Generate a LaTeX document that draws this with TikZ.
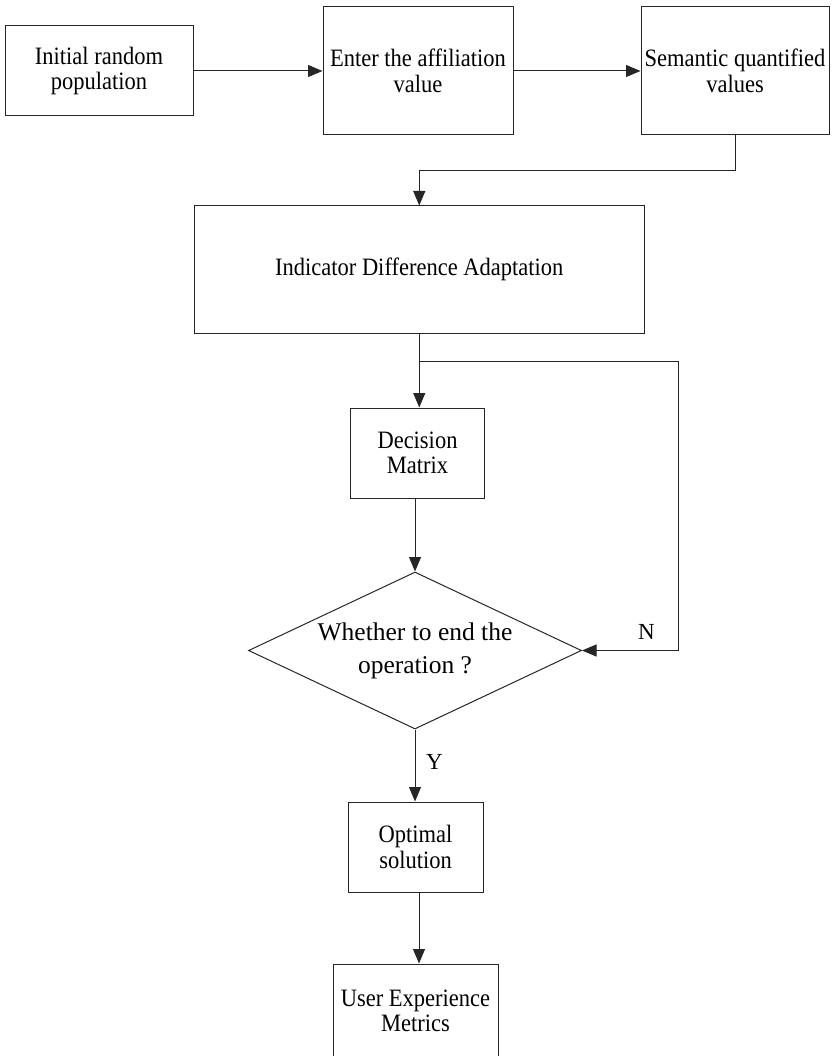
\documentclass[tikz,border=0pt]{standalone}
\usepackage{fontspec}
\setmainfont{Liberation Serif}
\newfontfamily\narrowserif[FakeStretch=0.9]{Liberation Serif}
\usetikzlibrary{arrows.meta,shapes.geometric}

\tikzset{
  flow/.style={draw=black!85, line width=1pt},
  box/.style={flow, rectangle, align=center, inner sep=0pt,
    font=\narrowserif\fontsize{25}{25.5}\selectfont},
  decide/.style={flow, diamond, aspect=2.12, align=center, inner sep=0pt,
    minimum width=333pt, minimum height=157pt,
    font=\fontsize{25.5}{33}\selectfont},
  arr/.style={flow, -{Triangle[length=14.5pt,width=12pt]}},
  tag/.style={inner sep=0pt, font=\fontsize{23}{26}\selectfont},
}

\begin{document}
\begin{tikzpicture}[x=1pt, y=-1pt]
  \useasboundingbox (0,0) rectangle (831,1056);
  \clip (0,0) rectangle (831,1056);

  % top row
  \node[box, minimum width=188pt, minimum height=90pt]  (init) at (99,71)  {Initial random\\population};
  \node[box, minimum width=190pt, minimum height=128pt] (aff)  at (418,71) {Enter the affiliation\\value};
  \node[box, minimum width=188pt, minimum height=128pt] (sem)  at (735,71) {Semantic quantified\\values};

  % main column
  \node[box, minimum width=449.5pt, minimum height=127pt] (ida) at (419.25,269.5) {Indicator Difference Adaptation};
  \node[box, minimum width=134.5pt, minimum height=90pt] (dec) at (417.5,453) {Decision\\Matrix};
  \node[decide] (cond) at (415,650.5) {Whether to end the\\operation ?};
  \node[box, minimum width=135pt, minimum height=90pt] (opt) at (415.5,847) {Optimal\\solution};
  \node[box, minimum width=165pt, minimum height=94pt] (ux) at (415.5,1011) {User Experience\\Metrics};

  % connectors
  \draw[arr] (init) -- (aff);
  \draw[arr] (aff) -- (sem);
  \coordinate (semdown) at (735,171);
  \draw[arr] (sem.south) -- (semdown) -| (ida.north);
  \draw[arr] (ida.south) -- (ida.south |- dec.north);
  \coordinate (split) at (419.25,361);
  \coordinate (loopcorner) at (678,361);
  \draw[flow] (split) -- (loopcorner);
  \draw[arr] (loopcorner) |- (cond.east);
  \draw[arr] (dec.south -| cond.north) -- (cond.north);
  \draw[arr] (cond.south) -- (opt.north -| cond.south);
  \draw[arr] (opt.south -| 419,0) -- (ux.north -| 419,0);

  % branch labels
  \node[tag] (ylab) at (434.5,762) {Y};
  \node[tag] (nlab) at (646.5,631.5) {N};
\end{tikzpicture}
\end{document}
